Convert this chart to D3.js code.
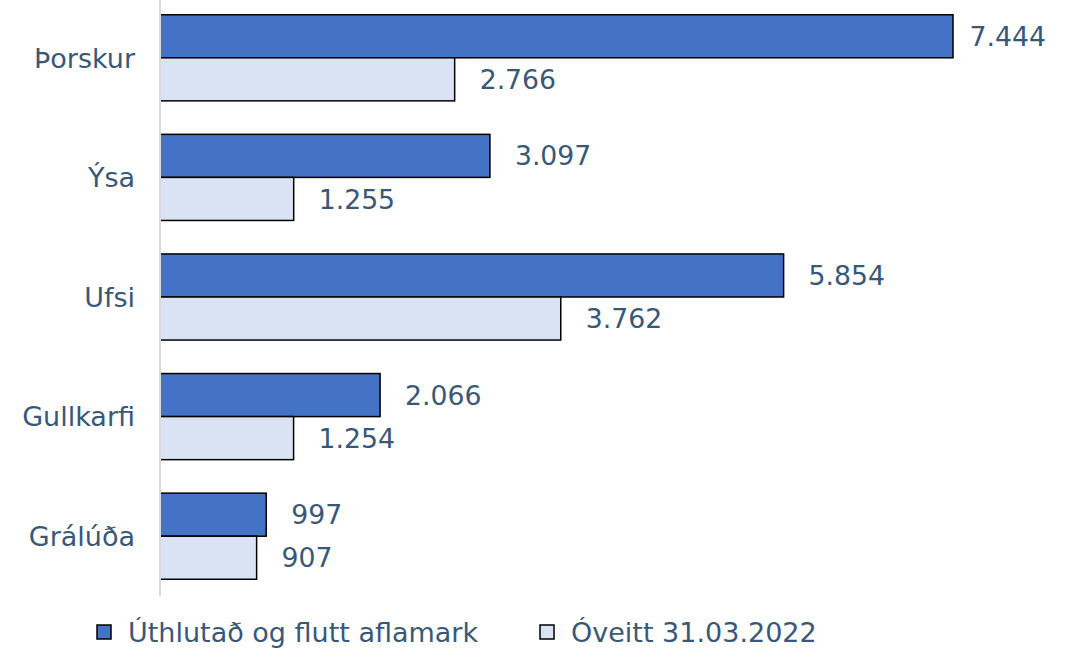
<!DOCTYPE html>
<html>
<head>
<meta charset="utf-8">
<script src="https://cdn.jsdelivr.net/npm/d3@7"></script>
<style>
  body { margin: 0; background: #fff; }
  text { font-family: "DejaVu Sans", Verdana, sans-serif; fill: #395878; }
</style>
</head>
<body>
<div class="chart"></div>
<script>
const categories = ['Þorskur', 'Ýsa', 'Ufsi', 'Gullkarfi', 'Grálúða']
const seriesNames = ['Úthlutað og flutt aflamark', 'Óveitt 31.03.2022']
const allocated = [7444, 3097, 5854, 2066, 997]
const unused = [2766, 1255, 3762, 1254, 907]

const width = 1066
const height = 649
const colors = ['#4472c4', '#dae3f3']
const fmt = v => d3.format(',')(v).replace(/,/g, '.')

const svg = d3.select('.chart')
  .append('svg')
  .attr('width', width)
  .attr('height', height)

const x = d3.scaleLinear().domain([0, 7444]).range([160, 953])
const y = d3.scaleBand().domain(categories).range([-2, 596]).paddingInner(0.28).paddingOuter(0.14)
const ySub = d3.scaleBand().domain([0, 1]).range([0, y.bandwidth()])

const series = [allocated, unused]

// bars
series.forEach((vals, s) => {
  const g = svg.append('g')
  g.selectAll('rect')
    .data(vals)
    .enter()
    .append('rect')
    .attr('x', x(0))
    .attr('y', (d, i) => y(categories[i]) + ySub(s))
    .attr('width', d => x(d) - x(0))
    .attr('height', ySub.bandwidth())
    .attr('fill', colors[s])
    .attr('stroke', '#000')
    .attr('stroke-width', 1.5)

  g.selectAll('text')
    .data(vals)
    .enter()
    .append('text')
    .attr('x', d => x(d) + 25)
    .attr('y', (d, i) => y(categories[i]) + ySub(s) + ySub.bandwidth() / 2)
    .attr('dy', '0.36em')
    .attr('font-size', 26.7)
    .text(fmt)
    // keep labels inside the chart area
    .each(function () {
      const w = this.getComputedTextLength()
      const tx = +d3.select(this).attr('x')
      if (tx + w > 1046) d3.select(this).attr('x', 1046 - w)
    })
})

// axis line
svg.append('line')
  .attr('x1', x(0)).attr('x2', x(0))
  .attr('y1', 0).attr('y2', 596)
  .attr('stroke', '#d9d9d9')
  .attr('stroke-width', 2)

// category labels
svg.append('g')
  .selectAll('text')
  .data(categories)
  .enter()
  .append('text')
  .attr('x', 135)
  .attr('y', d => y(d) + y.bandwidth() / 2)
  .attr('dy', '0.36em')
  .attr('text-anchor', 'end')
  .attr('font-size', 27)
  .text(d => d)

// legend
const legendX = [97, 540]
const legend = svg.append('g')
  .selectAll('g')
  .data(seriesNames)
  .enter()
  .append('g')
  .attr('transform', (d, i) => `translate(${legendX[i]}, 632)`)

legend.append('rect')
  .attr('x', 0).attr('y', -7)
  .attr('width', 14).attr('height', 14)
  .attr('fill', (d, i) => colors[i])
  .attr('stroke', '#000')
  .attr('stroke-width', 1.5)

legend.append('text')
  .attr('x', 31)
  .attr('dy', '0.36em')
  .attr('font-size', 27)
  .text(d => d)
</script>
</body>
</html>
